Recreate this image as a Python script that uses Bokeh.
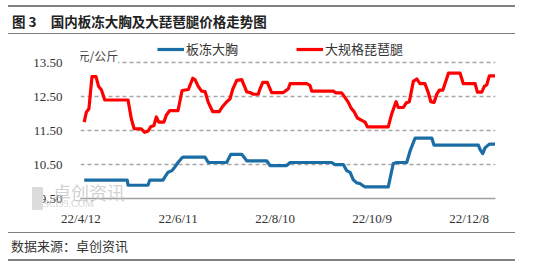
from bokeh.plotting import figure
from bokeh.models import (FixedTicker, Label, Legend, LegendItem, Range1d,
                          NumeralTickFormatter, Div)
from bokeh.layouts import column
from bokeh.embed import file_html
from bokeh.resources import INLINE

# x values: days since 2022-04-12
red_day = [2, 3.3, 4.9, 6.8, 9.3, 10.9, 12.6, 14.7, 29.1, 31.1, 32.8, 37.3, 39.4, 41.4,
           43.1, 45.1, 46.6, 48.1, 51.3, 52.8, 54.9, 60, 62.5, 66.4, 69.1, 70.5, 72.5,
           74.6, 76.7, 78.7, 81.4, 85.5, 87.6, 90.1, 92.1, 93.8, 96.3, 99.4, 102.5,
           104.5, 106.6, 109.6, 110.7, 112.4, 115.2, 117.9, 125.1, 126.8, 128.2, 129.3,
           139.6, 141.6, 142.7, 156, 157.7, 161.2, 163.3, 165.3, 167, 168.8, 170.9,
           173.6, 175.6, 177.1, 190, 192.1, 194.8, 196.2, 199.3, 201, 203, 205.5,
           207.6, 209.6, 212.7, 214.8, 216.3, 218.3, 220, 221.6, 223.7, 226.2, 227.2,
           234.4, 236.4, 243.7, 245.1, 247.8, 249.4, 250.9, 252.5, 256]
red_val = [11.75, 12.04, 12.14, 13.09, 13.09, 12.8, 12.7, 12.4, 12.4, 11.85, 11.56, 11.55,
           11.45, 11.48, 11.61, 11.65, 11.9, 11.75, 11.75, 11.96, 12.09, 12.09, 12.68,
           12.71, 13.04, 13.0, 12.8, 12.66, 12.65, 12.33, 12.06, 12.06, 12.21, 12.35,
           12.43, 12.71, 12.98, 13.0, 12.64, 12.62, 12.57, 12.57, 12.73, 12.92, 12.92,
           12.62, 12.62, 12.68, 12.73, 12.88, 12.88, 12.83, 12.66, 12.66, 12.61, 12.61,
           12.47, 12.33, 12.16, 12.06, 11.87, 11.8, 11.75, 11.61, 11.61, 11.99, 12.35,
           12.18, 12.18, 12.31, 12.35, 12.95, 13.02, 12.88, 12.88, 12.61, 12.35, 12.33,
           12.57, 12.69, 12.69, 13.04, 13.19, 13.19, 12.88, 12.88, 12.63, 12.63, 12.8,
           12.85, 13.11, 13.11]

blue_day = [2, 28.6, 29.1, 41.4, 42.5, 50.7, 52.1, 53.8, 56.3, 57.9, 60, 62.5, 63.3, 76.7,
            78.7, 90.1, 92.6, 99.4, 102.5, 114.8, 116.9, 127.2, 129.3, 155, 157, 162.2,
            164.3, 166.4, 168.4, 170.5, 172.5, 175.6, 190, 193.1, 195.2, 201.4, 203.5,
            206.6, 216.9, 218.3, 245.7, 246.8, 248.4, 249.8, 252.5, 256]
blue_val = [10.04, 10.04, 9.89, 9.89, 10.04, 10.04, 10.15, 10.27, 10.32, 10.42, 10.56,
            10.7, 10.72, 10.72, 10.56, 10.56, 10.8, 10.8, 10.61, 10.61, 10.47, 10.47,
            10.56, 10.56, 10.5, 10.5, 10.32, 10.27, 10.05, 9.96, 9.94, 9.84, 9.84, 10.53,
            10.56, 10.56, 10.9, 11.28, 11.28, 11.07, 11.07, 10.94, 10.82, 10.99, 11.1, 11.1]

tick_days = [0, 60, 120, 180, 240]
tick_labels = ["22/4/12", "22/6/11", "22/8/10", "22/10/9", "22/12/8"]
y_ticks = [9.5, 10.5, 11.5, 12.5, 13.5]
series_names = ["板冻大胸", "大规格琵琶腿"]

BLUE = "#1b6ea5"
RED = "#ff0000"
GRAY = "#808080"
TXT = "#333333"
CJK = "Noto Sans CJK SC"
SERIF = "Liberation Serif"

W = 551
HEAD_H = 40
FIG_H = 188
FOOT_H = 263 - HEAD_H - FIG_H
FL, FB = 80, 202  # frame left / bottom in page px

p = figure(width=W, height=FIG_H, output_backend="svg", toolbar_location=None,
           x_range=Range1d(-0.3, 256.3), y_range=Range1d(9.5, 14.152),
           min_border_left=80, min_border_right=56, min_border_top=0,
           min_border_bottom=FIG_H - (FB - HEAD_H), margin=0)
p.outline_line_color = None
p.background_fill_color = "white"
p.border_fill_color = "white"

p.xgrid.visible = False
p.ygrid.ticker = FixedTicker(ticks=y_ticks[1:])
p.ygrid.grid_line_color = "#a6a6a6"
p.ygrid.grid_line_dash = "4 3"
p.ygrid.grid_line_width = 1.3

p.xaxis.ticker = FixedTicker(ticks=tick_days)
p.xaxis.major_label_overrides = {d: l for d, l in zip(tick_days, tick_labels)}
p.xaxis.major_tick_line_color = None
p.xaxis.minor_tick_line_color = None
p.xaxis.axis_line_color = "#a0a0a0"
p.xaxis.axis_line_width = 1.5
p.xaxis.major_label_standoff = 6
p.xaxis.major_label_text_font = SERIF
p.xaxis.major_label_text_font_size = "13px"
p.xaxis.major_label_text_color = TXT

p.yaxis.ticker = FixedTicker(ticks=y_ticks)
p.yaxis.formatter = NumeralTickFormatter(format="0.00")
p.yaxis.axis_line_color = None
p.yaxis.major_tick_line_color = None
p.yaxis.minor_tick_line_color = None
p.yaxis.major_label_standoff = 12
p.yaxis.major_label_text_font = SERIF
p.yaxis.major_label_text_font_size = "13px"
p.yaxis.major_label_text_color = TXT

r_blue = p.line(blue_day, blue_val, line_color=BLUE, line_width=3.2, line_join="round")
r_red = p.line(red_day, red_val, line_color=RED, line_width=3.2, line_join="round")

legend = Legend(items=[LegendItem(label=series_names[0], renderers=[r_blue]),
                       LegendItem(label=series_names[1], renderers=[r_red])],
                location=(157 - FL, FB - 62), orientation="horizontal",
                glyph_width=27, glyph_height=16, label_height=16, label_standoff=2,
                spacing=58, padding=0, margin=0, border_line_color=None,
                background_fill_alpha=0, label_text_font=CJK,
                label_text_font_size="13px", label_text_color=TXT)
p.add_layout(legend)

p.add_layout(Label(x=77 - FL, y=FB - 59, x_units="screen", y_units="screen",
                   text="元/公斤", text_font=CJK, text_font_size="12px",
                   text_color="#444444", text_baseline="middle", text_align="left",
                   background_fill_color="white"))


def box(left, top, w, h, color):
    return (f'<div style="position:absolute;left:{left}px;top:{top}px;width:{w}px;'
            f'height:{h}px;background:{color};"></div>')


def txt(text, left, center, size, weight="normal", color=TXT, font=CJK, lh=20):
    return (f'<div style="position:absolute;left:{left}px;top:{center - lh / 2}px;'
            f'line-height:{lh}px;font-size:{size}px;font-weight:{weight};color:{color};'
            f'font-family:\'{font}\';white-space:nowrap;">{text}</div>')


head_html = ('<div style="position:relative;width:551px;height:40px;">'
             + box(8, 4.7, 507, 2, GRAY)
             + txt("图 3", 12, 20.5, 13.5, "bold", "#222222")
             + txt("国内板冻大胸及大琵琶腿价格走势图", 50.7, 20.5, 13.5, "bold", "#222222")
             + box(8, 32.6, 507, 1.5, GRAY)
             + '</div>')

ft = HEAD_H + FIG_H  # footer top in page px
foot_html = ('<div style="position:relative;width:551px;height:%dpx;">' % FOOT_H
             + box(32, 187 - ft, 11, 23, "#dcdcdc")
             + txt("卓创资讯", 53, 192 - ft, 18, "normal", "rgba(190,190,190,0.7)", lh=24)
             + txt("SCI99.COM", 43, 204 - ft, 10, "normal", "rgba(190,190,190,0.7)",
                   font=SERIF, lh=12)
             + box(8, 231.6 - ft, 507, 1.5, GRAY)
             + txt("数据来源：卓创资讯", 11, 246 - ft, 13, "normal", TXT)
             + box(8, 259 - ft, 507, 2, GRAY)
             + '</div>')

head = Div(text=head_html, width=W, height=HEAD_H, margin=0,
           styles={"overflow": "visible"})
foot = Div(text=foot_html, width=W, height=FOOT_H, margin=0,
           styles={"overflow": "visible"})

layout = column(head, p, foot, spacing=0, margin=0)
open("out.html", "w").write(file_html(layout, INLINE))
